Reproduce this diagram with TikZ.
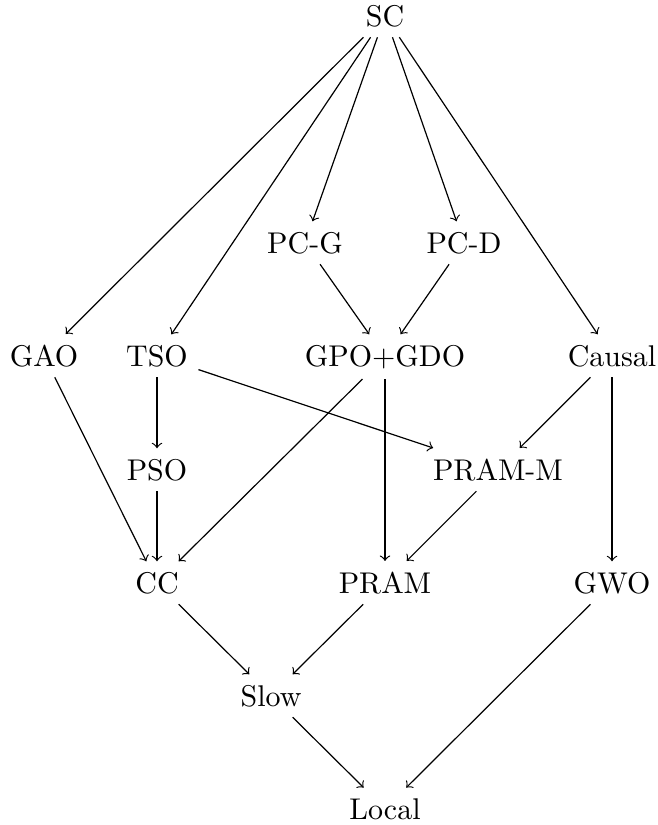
\documentclass[tikz,border=0pt]{standalone}
\begin{document}
\begin{tikzpicture}[x=0.3337pt, y=-0.3337pt,
  lbl/.style={inner sep=0.3333em, anchor=base},
  arr/.style={->, line width=0.4pt}]
\useasboundingbox (0,0) rectangle (657,825);
% consistency models, placed on a grid (coordinates give the text baseline)
\node[lbl] (sc)    at (385,26)  {SC};
\node[lbl] (pcg)   at (305,253) {PC-G};
\node[lbl] (pcd)   at (464,253) {PC-D};
\node[lbl] (gao)   at (44,366)  {GAO};
\node[lbl] (tso)   at (157,366) {TSO};
\node[lbl] (gpo)   at (385,366) {GPO+GDO};
\node[lbl] (caus)  at (612,366) {Causal};
\node[lbl] (pso)   at (157,480) {PSO};
\node[lbl] (pramm) at (498,480) {PRAM-M};
\node[lbl] (cc)    at (157,593) {CC};
\node[lbl] (pram)  at (385,593) {PRAM};
\node[lbl] (gwo)   at (612,593) {GWO};
\node[lbl] (slow)  at (271,706) {Slow};
\node[lbl] (local) at (385,819) {Local};
% implications between the models
\draw[arr] (sc) -- (gao);
\draw[arr] (sc) -- (tso);
\draw[arr] (sc) -- (pcg);
\draw[arr] (sc) -- (pcd);
\draw[arr] (sc) -- (caus);
\draw[arr] (pcg) -- (gpo);
\draw[arr] (pcd) -- (gpo);
\draw[arr] (gao) -- (cc);
\draw[arr] (tso) -- (pso);
\draw[arr] (tso) -- (pramm);
\draw[arr] (gpo) -- (cc);
\draw[arr] (gpo) -- (pram);
\draw[arr] (caus) -- (pramm);
\draw[arr] (caus) -- (gwo);
\draw[arr] (pso) -- (cc);
\draw[arr] (pramm) -- (pram);
\draw[arr] (cc) -- (slow);
\draw[arr] (pram) -- (slow);
\draw[arr] (gwo) -- (local);
\draw[arr] (slow) -- (local);
\end{tikzpicture}
\end{document}
